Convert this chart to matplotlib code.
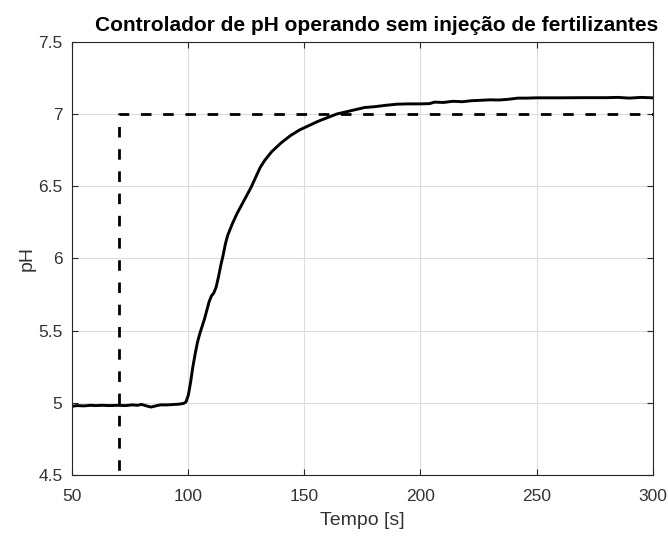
import matplotlib
matplotlib.use('Agg')
import matplotlib.pyplot as plt

plt.rcParams['font.family'] = ['Liberation Sans', 'DejaVu Sans']

# medicao de pH (leitura do grafico)
tempo = [50, 52, 55, 58, 60, 63, 66, 70, 73, 76, 78, 80, 82, 84, 86, 88, 91, 94, 96,
         98, 99, 100, 101, 102, 103, 104, 105, 106, 107, 108, 109, 110, 111, 112, 113,
         114, 115, 116, 117, 119, 121, 123, 125, 127, 129, 131, 133, 136, 140, 144,
         148, 152, 156, 160, 164, 168, 172, 176, 180, 185, 190, 195, 200, 204, 206,
         210, 214, 218, 222, 226, 230, 234, 238, 242, 246, 250, 260, 270, 280, 285,
         290, 295, 300]
ph = [4.975, 4.98, 4.978, 4.982, 4.98, 4.982, 4.98, 4.982, 4.98, 4.985, 4.982, 4.988,
      4.978, 4.97, 4.978, 4.985, 4.985, 4.988, 4.99,
      4.995, 5.005, 5.05, 5.14, 5.25, 5.34, 5.42, 5.48, 5.53, 5.58, 5.64, 5.70, 5.74,
      5.76, 5.80, 5.87, 5.95, 6.02, 6.10, 6.16, 6.24, 6.31, 6.37, 6.43, 6.49, 6.56,
      6.63, 6.68, 6.74, 6.80, 6.85, 6.89, 6.92, 6.95, 6.975,
      7.0, 7.015, 7.03, 7.045, 7.05, 7.06, 7.068, 7.07, 7.07, 7.072, 7.082, 7.08,
      7.088, 7.085, 7.092, 7.095, 7.098, 7.097, 7.102, 7.11, 7.11, 7.112, 7.112,
      7.113, 7.113, 7.115, 7.11, 7.115, 7.112]

# setpoint
sp_t = [70, 70, 300]
sp_ph = [4.0, 7.0, 7.0]

fig, ax = plt.subplots(figsize=(6.68, 5.36), dpi=100)
fig.subplots_adjust(left=0.108, right=0.977, top=0.922, bottom=0.114)

ax.plot(sp_t, sp_ph, 'k--', linewidth=2, dashes=(3.8, 4.2))
ax.plot(tempo, ph, 'k-', linewidth=2.1)

ax.set_xlim(50, 300)
ax.set_ylim(4.5, 7.5)
ax.set_xticks([50, 100, 150, 200, 250, 300])
ax.set_yticks([4.5, 5, 5.5, 6, 6.5, 7, 7.5])
ax.set_yticklabels(['4.5', '5', '5.5', '6', '6.5', '7', '7.5'])
ax.grid(True, color='#dcdcdc', linewidth=0.8)
ax.set_axisbelow(True)
ax.tick_params(direction='in', top=True, right=True, labelsize=12.5,
               colors='#262626', labelcolor='#333333', length=4)
ax.tick_params(axis='x', pad=10)
ax.tick_params(axis='y', pad=7)
for s in ax.spines.values():
    s.set_color('#262626')
    s.set_linewidth(0.8)

ax.set_title('Controlador de pH operando sem injeção de fertilizantes',
             fontsize=15, fontweight='bold', pad=8, x=0.525)
ax.set_xlabel('Tempo [s]', fontsize=14, color='#333333', labelpad=6)
ax.set_ylabel('pH', fontsize=14, color='#333333', labelpad=2)

fig.savefig('out.png', dpi=100)
